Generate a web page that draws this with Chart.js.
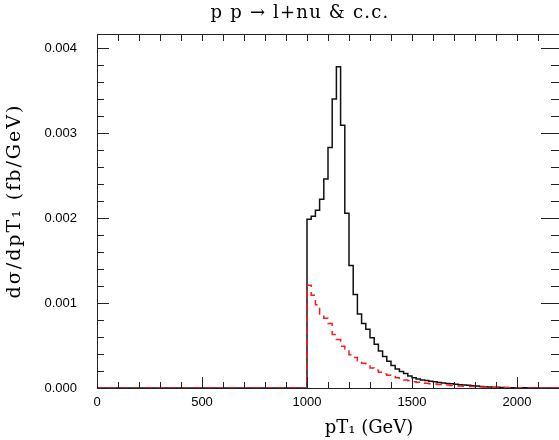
<!DOCTYPE html>
<html>
<head>
  <meta charset="UTF-8">
  <title>pT1 distribution</title>
  <script src="https://cdn.jsdelivr.net/npm/chart.js"></script>
  <style>
    body { margin: 0; background: #fff; }
    canvas { display: block; }
  </style>
</head>
<body>
  <canvas id="c" width="559" height="440"></canvas>
  <script>
    // histogram: 20 GeV bins starting at 1000 GeV, values in units of 1e-3 fb/GeV
    const binWidth = 20;
    const firstEdge = 1000;
    const blackVals = [
      1.985, 2.02, 2.09, 2.22, 2.46, 2.83, 3.40, 3.78, 3.09, 2.055,
      1.44, 1.10, 0.87, 0.76, 0.69, 0.59, 0.515, 0.435, 0.37, 0.315,
      0.265, 0.225, 0.195, 0.17, 0.142, 0.12, 0.105, 0.095, 0.087, 0.080,
      0.073, 0.066, 0.060, 0.054, 0.049, 0.044, 0.039, 0.035, 0.031, 0.027,
      0.023, 0.019, 0.016, 0.013, 0.010, 0.008, 0.006, 0.005, 0.004, 0.003,
      0.003, 0.002, 0.002, 0.002, 0.001, 0.001, 0.001, 0.001, 0.000, 0.000
    ];
    const redVals = [
      1.21, 1.09, 0.98, 0.87, 0.82, 0.76, 0.63, 0.57, 0.49, 0.45,
      0.39, 0.36, 0.32, 0.29, 0.26, 0.235, 0.21, 0.185, 0.165, 0.15,
      0.135, 0.12, 0.105, 0.095, 0.085, 0.075, 0.068, 0.062, 0.056, 0.051,
      0.046, 0.042, 0.038, 0.034, 0.030, 0.027, 0.024, 0.021, 0.019, 0.017,
      0.015, 0.013, 0.011, 0.009, 0.007, 0.006, 0.005, 0.004, 0.003, 0.002,
      0.002, 0.001, 0.001, 0.001, 0.001, 0.000, 0.000, 0.000, 0.000, 0.000
    ];
    const xMajor = [0, 500, 1000, 1500, 2000];
    const yMajor = [0, 0.001, 0.002, 0.003, 0.004];
    const xMax = 2200;
    const yMax = 0.004165;

    // step points: left edge of each bin, plus the closing edge
    function histPoints(vals) {
      const pts = [{ x: 0, y: 0 }];
      vals.forEach((v, i) => pts.push({ x: firstEdge + i * binWidth, y: v / 1000 }));
      pts.push({ x: firstEdge + vals.length * binWidth, y: vals[vals.length - 1] / 1000 });
      return pts;
    }

    const tickFont = { family: '"Liberation Sans", sans-serif', size: 13 };

    // frame, inward ticks on all sides, and the titles
    const framePlugin = {
      id: 'frame',
      afterDraw(chart) {
        const { ctx, chartArea: a, scales: { x, y } } = chart;
        ctx.save();
        ctx.strokeStyle = '#222';
        ctx.lineWidth = 1;
        ctx.beginPath();
        ctx.moveTo(a.left + 0.5, a.bottom + 0.5);
        ctx.lineTo(a.left + 0.5, a.top + 0.5);
        ctx.lineTo(a.right, a.top + 0.5);
        ctx.moveTo(a.left, a.bottom + 0.5);
        ctx.lineTo(a.right, a.bottom + 0.5);
        for (let v = 0; v <= xMax; v += 100) {
          const px = Math.round(x.getPixelForValue(v)) + 0.5;
          const len = v % 500 === 0 ? 11 : 6;
          ctx.moveTo(px, a.bottom);
          ctx.lineTo(px, a.bottom - len);
          ctx.moveTo(px, a.top);
          ctx.lineTo(px, a.top + 7);
        }
        for (let k = 0; k <= 20; k++) {
          const py = Math.round(y.getPixelForValue(k * 0.0002)) + 0.5;
          const major = k % 5 === 0;
          ctx.moveTo(a.left, py);
          ctx.lineTo(a.left + (major ? 12 : 7), py);
          ctx.moveTo(a.right, py);
          ctx.lineTo(a.right - (major ? 18 : 8), py);
        }
        ctx.stroke();

        ctx.fillStyle = '#000';
        ctx.textAlign = 'center';
        ctx.textBaseline = 'middle';
        ctx.font = '500 18px "DejaVu Serif", serif';
        ctx.letterSpacing = '1.2px';
        ctx.fillText('p p → l+nu & c.c.', 300, 13);
        ctx.letterSpacing = '0px';
        ctx.fillText('pT₁ (GeV)', 369, 428);
        ctx.translate(15, 201);
        ctx.rotate(-Math.PI / 2);
        ctx.font = '19px "DejaVu Serif", serif';
        ctx.letterSpacing = '2px';
        ctx.fillText('dσ/dpT₁ (fb/GeV)', 0, 0);
        ctx.restore();
      }
    };

    new Chart(document.getElementById('c'), {
      type: 'line',
      data: {
        datasets: [
          {
            label: 'red',
            data: histPoints(redVals),
            borderColor: '#ff1a1a',
            borderWidth: 1.5,
            borderDash: [7, 5],
            stepped: true,
            pointRadius: 0,
            fill: false,
            order: 0
          },
          {
            label: 'black',
            data: histPoints(blackVals),
            borderColor: '#111',
            borderWidth: 1.5,
            stepped: true,
            pointRadius: 0,
            fill: false,
            order: 1
          }
        ]
      },
      options: {
        responsive: false,
        animation: false,
        devicePixelRatio: 1,
        layout: { padding: { top: 34, left: 0, right: 0, bottom: 0 } },
        plugins: { legend: { display: false }, tooltip: { enabled: false } },
        scales: {
          x: {
            type: 'linear',
            min: 0,
            max: xMax,
            grid: { display: false, drawTicks: false },
            border: { display: false },
            ticks: { font: tickFont, color: '#000', padding: 7, maxRotation: 0, callback: v => String(v) },
            afterBuildTicks: s => { s.ticks = xMajor.map(v => ({ value: v })); },
            afterFit: s => { s.height = 52; }
          },
          y: {
            min: 0,
            max: yMax,
            grid: { display: false, drawTicks: false },
            border: { display: false },
            ticks: { font: tickFont, color: '#000', padding: 20, callback: v => v.toFixed(3) },
            afterBuildTicks: s => { s.ticks = yMajor.map(v => ({ value: v })); },
            afterFit: s => { s.width = 97; }
          }
        }
      },
      plugins: [framePlugin]
    });
  </script>
</body>
</html>
